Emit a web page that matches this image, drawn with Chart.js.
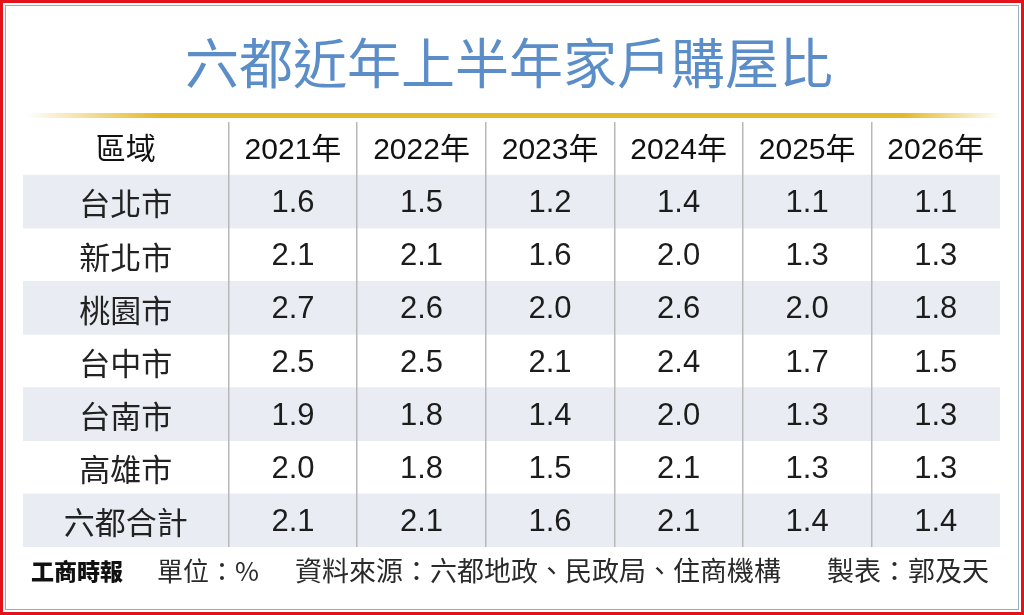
<!DOCTYPE html>
<html lang="zh-Hant">
<head>
<meta charset="utf-8">
<title>六都近年上半年家戶購屋比</title>
<script src="https://cdn.jsdelivr.net/npm/chart.js@4.4.1/dist/chart.umd.min.js"></script>
<style>
  html, body { margin: 0; padding: 0; background: #fff; }
  canvas { display: block; }
</style>
</head>
<body>
<canvas id="myChart" width="1024" height="615"></canvas>
<script>
'use strict';

// table data
let headerLabel = '區域';
let regions = ['台北市', '新北市', '桃園市', '台中市', '台南市', '高雄市', '六都合計'];
let years = ['2021年', '2022年', '2023年', '2024年', '2025年', '2026年'];
let y2021 = [1.6, 2.1, 2.7, 2.5, 1.9, 2.0, 2.1];
let y2022 = [1.5, 2.1, 2.6, 2.5, 1.8, 1.8, 2.1];
let y2023 = [1.2, 1.6, 2.0, 2.1, 1.4, 1.5, 1.6];
let y2024 = [1.4, 2.0, 2.6, 2.4, 2.0, 2.1, 2.1];
let y2025 = [1.1, 1.3, 2.0, 1.7, 1.3, 1.3, 1.4];
let y2026 = [1.1, 1.3, 1.8, 1.5, 1.3, 1.3, 1.4];
let yearValues = [y2021, y2022, y2023, y2024, y2025, y2026];

let titleText = '六都近年上半年家戶購屋比';
let logoText = '工商時報';
let unitText = '單位：%';
let sourceText = '資料來源：六都地政、民政局、住商機構';
let makerText = '製表：郭及天';

// column layout on the x scale: region column is wider than year columns
let regionColWidth = 1.6;
let colEdges = [0];
colEdges.push(regionColWidth);
for (let i = 1; i <= years.length; i++) {
  colEdges.push(regionColWidth + i);
}
let xMax = colEdges[colEdges.length - 1];

let rowLabels = [headerLabel].concat(regions);

const cjk = '"Noto Sans CJK TC", "Noto Sans CJK SC", sans-serif';
const latin = '"Liberation Sans", Arial, ' + cjk;

function colCenter(i) {
  return (colEdges[i] + colEdges[i + 1]) / 2;
}

function buildDatasets() {
  let datasets = [];

  // shaded bands on every other row
  datasets.push({
    type: 'bar',
    label: 'stripes',
    data: rowLabels.map((r, i) => (i % 2 === 1 ? [0, xMax] : null)),
    backgroundColor: '#e9edf3',
    barPercentage: 1,
    categoryPercentage: 1,
    borderWidth: 0
  });

  // header row
  let header = [{ x: colCenter(0), y: headerLabel, text: headerLabel }];
  for (let i = 0; i < years.length; i++) {
    header.push({ x: colCenter(i + 1), y: headerLabel, text: years[i] });
  }
  datasets.push({
    type: 'scatter',
    label: 'header',
    data: header,
    pointRadius: 0,
    cellFont: '30px ' + latin,
    cellColor: '#111'
  });

  // region names
  datasets.push({
    type: 'scatter',
    label: 'regions',
    data: regions.map(r => ({ x: colCenter(0), y: r, text: r })),
    pointRadius: 0,
    cellFont: '31px ' + cjk,
    cellColor: '#222'
  });

  // values, one dataset per year
  for (let i = 0; i < years.length; i++) {
    datasets.push({
      type: 'scatter',
      label: years[i],
      data: regions.map((r, j) => ({ x: colCenter(i + 1), y: r, text: yearValues[i][j].toFixed(1) })),
      pointRadius: 0,
      cellFont: '31px ' + latin,
      cellColor: '#1c1c1c'
    });
  }
  return datasets;
}

// writes the cell texts at the points the scales put them
let cellTextPlugin = {
  id: 'cellText',
  afterDatasetsDraw(chart) {
    let ctx = chart.ctx;
    chart.data.datasets.forEach((ds, i) => {
      if (ds.type !== 'scatter') {
        return;
      }
      let meta = chart.getDatasetMeta(i);
      meta.data.forEach((pt, j) => {
        ctx.save();
        ctx.font = ds.cellFont;
        ctx.fillStyle = ds.cellColor;
        ctx.textAlign = 'center';
        ctx.textBaseline = 'middle';
        ctx.fillText(ds.data[j].text, pt.x, pt.y + 2);
        ctx.restore();
      });
    });
  }
};

// frame, title, gold rule and footer
let framePlugin = {
  id: 'frame',
  beforeDraw(chart) {
    let ctx = chart.ctx;
    let w = chart.width;
    let h = chart.height;
    ctx.save();
    ctx.fillStyle = '#fff';
    ctx.fillRect(0, 0, w, h);

    ctx.font = '54px ' + cjk;
    ctx.fillStyle = '#5b8dc9';
    ctx.textAlign = 'center';
    ctx.textBaseline = 'middle';
    ctx.fillText(titleText, 509, 63);

    let grad = ctx.createLinearGradient(25, 0, 1000, 0);
    grad.addColorStop(0, 'rgba(229, 184, 40, 0)');
    grad.addColorStop(0.14, 'rgba(229, 184, 40, 1)');
    grad.addColorStop(0.9, 'rgba(229, 184, 40, 1)');
    grad.addColorStop(1, 'rgba(229, 184, 40, 0)');
    ctx.fillStyle = grad;
    ctx.fillRect(25, 113, 975, 5);
    ctx.restore();
  },
  afterDraw(chart) {
    let ctx = chart.ctx;
    let w = chart.width;
    let h = chart.height;
    ctx.save();
    ctx.textAlign = 'left';
    ctx.textBaseline = 'middle';
    ctx.fillStyle = '#111';
    ctx.font = '900 23px ' + cjk;
    ctx.fillText(logoText, 31, 571);
    ctx.fillStyle = '#2a2a2a';
    ctx.font = '26px ' + cjk;
    ctx.fillText(unitText, 157, 571);
    ctx.font = '27px ' + cjk;
    ctx.fillText(sourceText, 295, 571);
    ctx.fillText(makerText, 827, 571);

    ctx.strokeStyle = '#9aaabb';
    ctx.lineWidth = 1;
    ctx.strokeRect(5.5, 5.5, w - 11, h - 11);
    ctx.strokeStyle = '#e3131b';
    ctx.lineWidth = 3;
    ctx.strokeRect(1.5, 1.5, w - 3, h - 3);
    ctx.restore();
  }
};

let ctx = document.getElementById('myChart').getContext('2d');
let chartObject = {
  type: 'bar',
  data: {
    labels: rowLabels,
    datasets: buildDatasets()
  },
  options: {
    responsive: false,
    animation: false,
    indexAxis: 'y',
    layout: {
      padding: { left: 23, right: 24, top: 122, bottom: 68 }
    },
    scales: {
      x: {
        type: 'linear',
        min: 0,
        max: xMax,
        afterBuildTicks: (scale) => {
          scale.ticks = colEdges.slice(1, -1).map(v => ({ value: v }));
        },
        grid: {
          color: '#b8b8b8',
          lineWidth: 1.5,
          drawTicks: false,
          z: 1
        },
        border: { display: false },
        ticks: { display: false }
      },
      y: {
        type: 'category',
        display: false,
        offset: true
      }
    },
    plugins: {
      legend: { display: false },
      title: { display: false },
      tooltip: { enabled: false }
    }
  },
  plugins: [framePlugin, cellTextPlugin]
};
new Chart(ctx, chartObject); // eslint-disable-line
</script>
</body>
</html>
